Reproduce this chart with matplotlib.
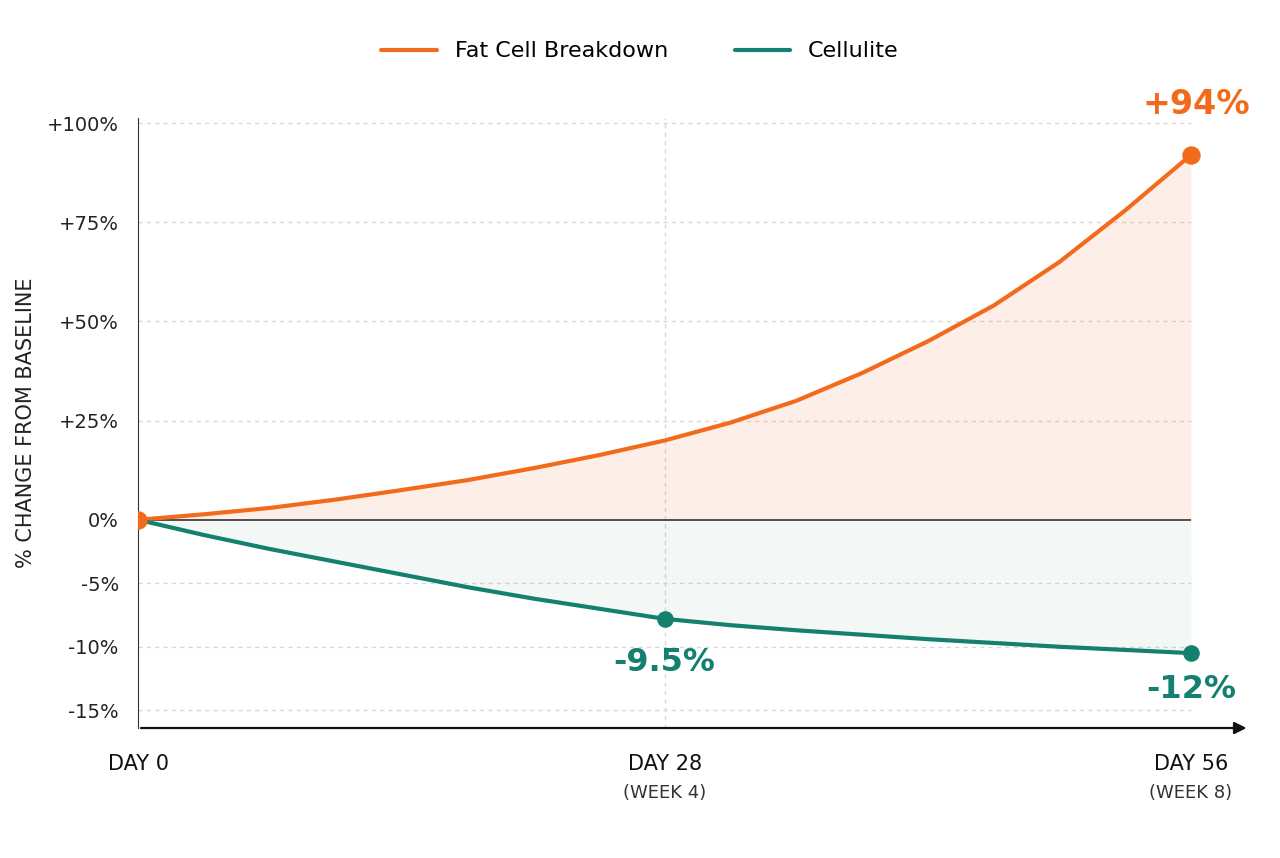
import matplotlib
matplotlib.use("Agg")
import matplotlib.pyplot as plt
import numpy as np

days = [0, 3.5, 7, 10.5, 14, 17.5, 21, 24.5, 28, 31.5, 35, 38.5, 42, 45.5, 49, 52.5, 56]
fat = [0, 1.4, 3, 5.1, 7.5, 10, 13, 16.3, 20, 24.5, 30, 37, 45, 54, 65, 78, 92]
cell = [0, -1.2, -2.3, -3.3, -4.3, -5.3, -6.2, -7.0, -7.8, -8.3, -8.7, -9.05, -9.4, -9.7, -10.0, -10.25, -10.5]
yticks = [100, 75, 50, 25, 0, -5, -10, -15]
ytick_labels = ["+100%", "+75%", "+50%", "+25%", "0%", "-5%", "-10%", "-15%"]
orange, teal = "#F26B1D", "#14806F"

K = 3.2
def fwd(y):
    y = np.asarray(y, float)
    return np.where(y >= 0, y, y * K)
def inv(y):
    y = np.asarray(y, float)
    return np.where(y >= 0, y, y / K)

fig = plt.figure(figsize=(12.8, 8.58), dpi=100)
ax = fig.add_axes([0.108, 0.1515, 0.868, 0.711])
ax.set_yscale("function", functions=(fwd, inv))
ax.set_xlim(0, 59.1)
ax.set_ylim(-16.4, 101.3)

ax.fill_between(days, fat, 0, color=orange, alpha=0.1, lw=0)
ax.fill_between(days, cell, 0, color=teal, alpha=0.05, lw=0)
ax.plot(days, fat, color=orange, lw=3, label="Fat Cell Breakdown", solid_capstyle="round")
ax.plot(days, cell, color=teal, lw=3, label="Cellulite", solid_capstyle="round")
ax.scatter([0, 56], [0, fat[-1]], color=orange, s=150, zorder=5)
ax.scatter([28, 56], [cell[8], cell[-1]], color=teal, s=120, zorder=5)

for t in yticks:
    if t != 0:
        ax.hlines(t, 0, 56, color="#d8d8d8", lw=1, ls=(0, (3, 3)), zorder=0)
ax.hlines(0, 0, 56, color="#333333", lw=1.2, zorder=1)
ax.axvline(28, color="#d8d8d8", lw=1, ls=(0, (3, 3)), zorder=0)

ax.set_yticks(yticks)
ax.set_yticklabels(ytick_labels, fontsize=14, color="#222")
ax.set_xticks([])
ax.tick_params(axis="y", length=0, pad=14)
for s in ["top", "right"]:
    ax.spines[s].set_visible(False)
ax.spines["left"].set_color("#333")
ax.spines["bottom"].set_visible(False)
ax.annotate("", xy=(59.1, -16.4), xytext=(0, -16.4),
            arrowprops=dict(arrowstyle="-|>", color="#111", lw=1.6, mutation_scale=18),
            annotation_clip=False)
ax.set_ylabel("% CHANGE FROM BASELINE", fontsize=15, color="#222", labelpad=8)

ax.text(56.3, 100.5, "+94%", color=orange, fontsize=24, fontweight="bold", ha="center", va="bottom")
ax.text(28, -11.2, "-9.5%", color=teal, fontsize=23, fontweight="bold", ha="center", va="center")
ax.text(56, -13.4, "-12%", color=teal, fontsize=23, fontweight="bold", ha="center", va="center")

for d, l1, l2 in [(0, "DAY 0", None), (28, "DAY 28", "(WEEK 4)"), (56, "DAY 56", "(WEEK 8)")]:
    ax.text(d, -19.2, l1, fontsize=15, ha="center", va="center", color="#111", clip_on=False)
    if l2:
        ax.text(d, -21.5, l2, fontsize=13, ha="center", va="center", color="#333", clip_on=False)

fig.legend(loc="upper center", bbox_to_anchor=(0.5, 0.975), ncol=2, frameon=False,
           fontsize=16, handlelength=2.5, columnspacing=3)
fig.savefig("out.png", dpi=100, facecolor="white")
